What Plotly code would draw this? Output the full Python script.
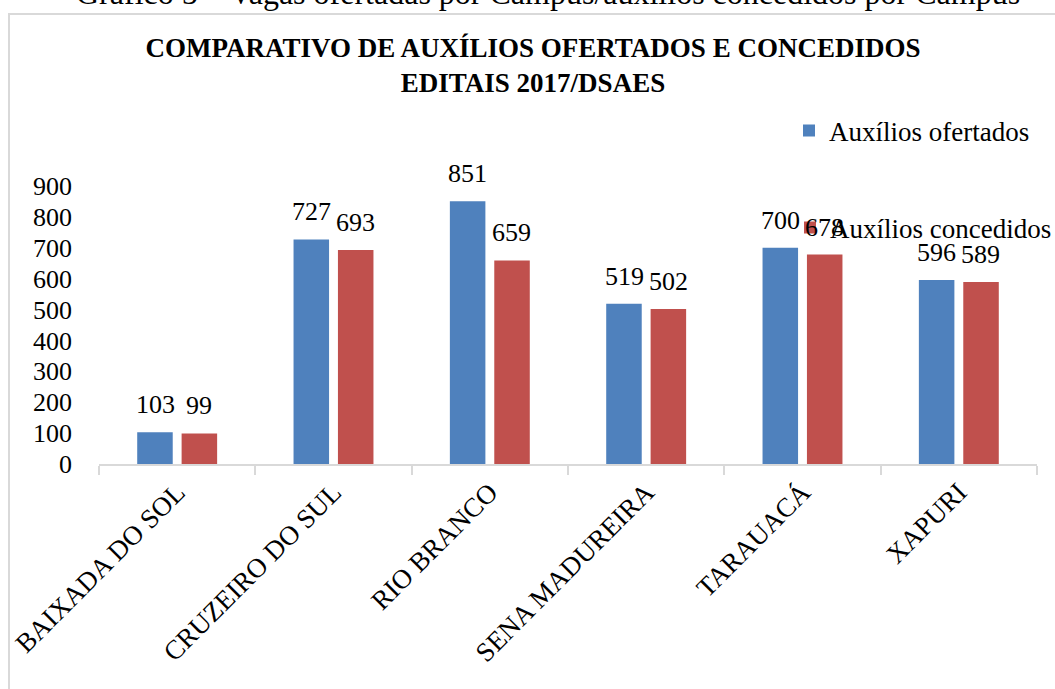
import plotly.graph_objects as go

campi = ['BAIXADA DO SOL', 'CRUZEIRO DO SUL', 'RIO BRANCO', 'SENA MADUREIRA', 'TARAUACÁ', 'XAPURI']
ofertados = [103, 727, 851, 519, 700, 596]
concedidos = [99, 693, 659, 502, 678, 589]

W, H = 1055, 689
L, R, T, B = 99, 18, 186, 225
plot_w = W - L - R
plot_h = H - T - B


def px_x(p):
    return (p - L) / plot_w


def px_y(p):
    return (H - B - p) / plot_h


serif = 'Liberation Serif, Times New Roman, serif'

fig = go.Figure()
fig.add_trace(go.Bar(x=campi, y=ofertados, name='Auxílios ofertados', marker_color='#4F81BD',
                     legend='legend'))
fig.add_trace(go.Bar(x=campi, y=concedidos, name='Auxílios concedidos', marker_color='#C0504D',
                     legend='legend2'))
fig.update_traces(marker_line_width=0)

# value labels above the bars
for series, shift in [(ofertados, -22), (concedidos, 22)]:
    for c, v in zip(campi, series):
        fig.add_annotation(x=c, y=v, text=str(v), showarrow=False, xshift=shift, yshift=11,
                           yanchor='bottom', font=dict(family=serif, size=26, color='black'))

fig.update_layout(
    width=W, height=H,
    margin=dict(l=L, r=R, t=T, b=B, autoexpand=False),
    plot_bgcolor='white', paper_bgcolor='white',
    barmode='group', bargap=0.432, bargroupgap=0.2,
    font=dict(family=serif, size=26, color='black'),
    title=dict(text='<b>COMPARATIVO DE AUXÍLIOS OFERTADOS E CONCEDIDOS<br>EDITAIS 2017/DSAES</b>',
               x=533 / W, xanchor='center', y=1 - 57 / H, yanchor='top',
               font=dict(family=serif, size=27, color='black')),
    legend=dict(x=789 / W, xanchor='left', y=1 - 131 / H, yanchor='middle',
                xref='container', yref='container',
                font=dict(family=serif, size=27), bgcolor='rgba(0,0,0,0)'),
    legend2=dict(x=790 / W, xanchor='left', y=1 - 228 / H, yanchor='middle',
                 xref='container', yref='container',
                 font=dict(family=serif, size=27), bgcolor='rgba(0,0,0,0)'),
    showlegend=True,
)
fig.update_xaxes(showline=True, linecolor='#D9D9D9', linewidth=1.5, ticks='outside',
                 tickson='boundaries', ticklen=9, tickcolor='#D9D9D9', tickwidth=1.5,
                 tickangle=-45, tickfont=dict(family=serif, size=27), showgrid=False,
                 automargin=False)
fig.update_yaxes(range=[0, 900], dtick=100, showgrid=False, showline=False, zeroline=False,
                 ticks='', ticklabelstandoff=26, tickfont=dict(family=serif, size=26),
                 automargin=False)

# chart border
fig.add_shape(type='rect', xref='paper', yref='paper', x0=px_x(9), x1=px_x(1070),
              y0=px_y(720), y1=px_y(14), line=dict(color='#D9D9D9', width=2), layer='below')

# caption above chart box (cut off at the top of the page)
fig.add_annotation(text='Gráfico 5 – Vagas ofertadas por Campus/auxílios concedidos por Campus',
                   xref='paper', yref='paper', x=px_x(548), y=px_y(13), xanchor='center',
                   yanchor='bottom', showarrow=False, font=dict(family=serif, size=32, color='black'))

fig.write_html('out.html', config={'displayModeBar': False},
               post_script="document.body.style.margin = '0';")
